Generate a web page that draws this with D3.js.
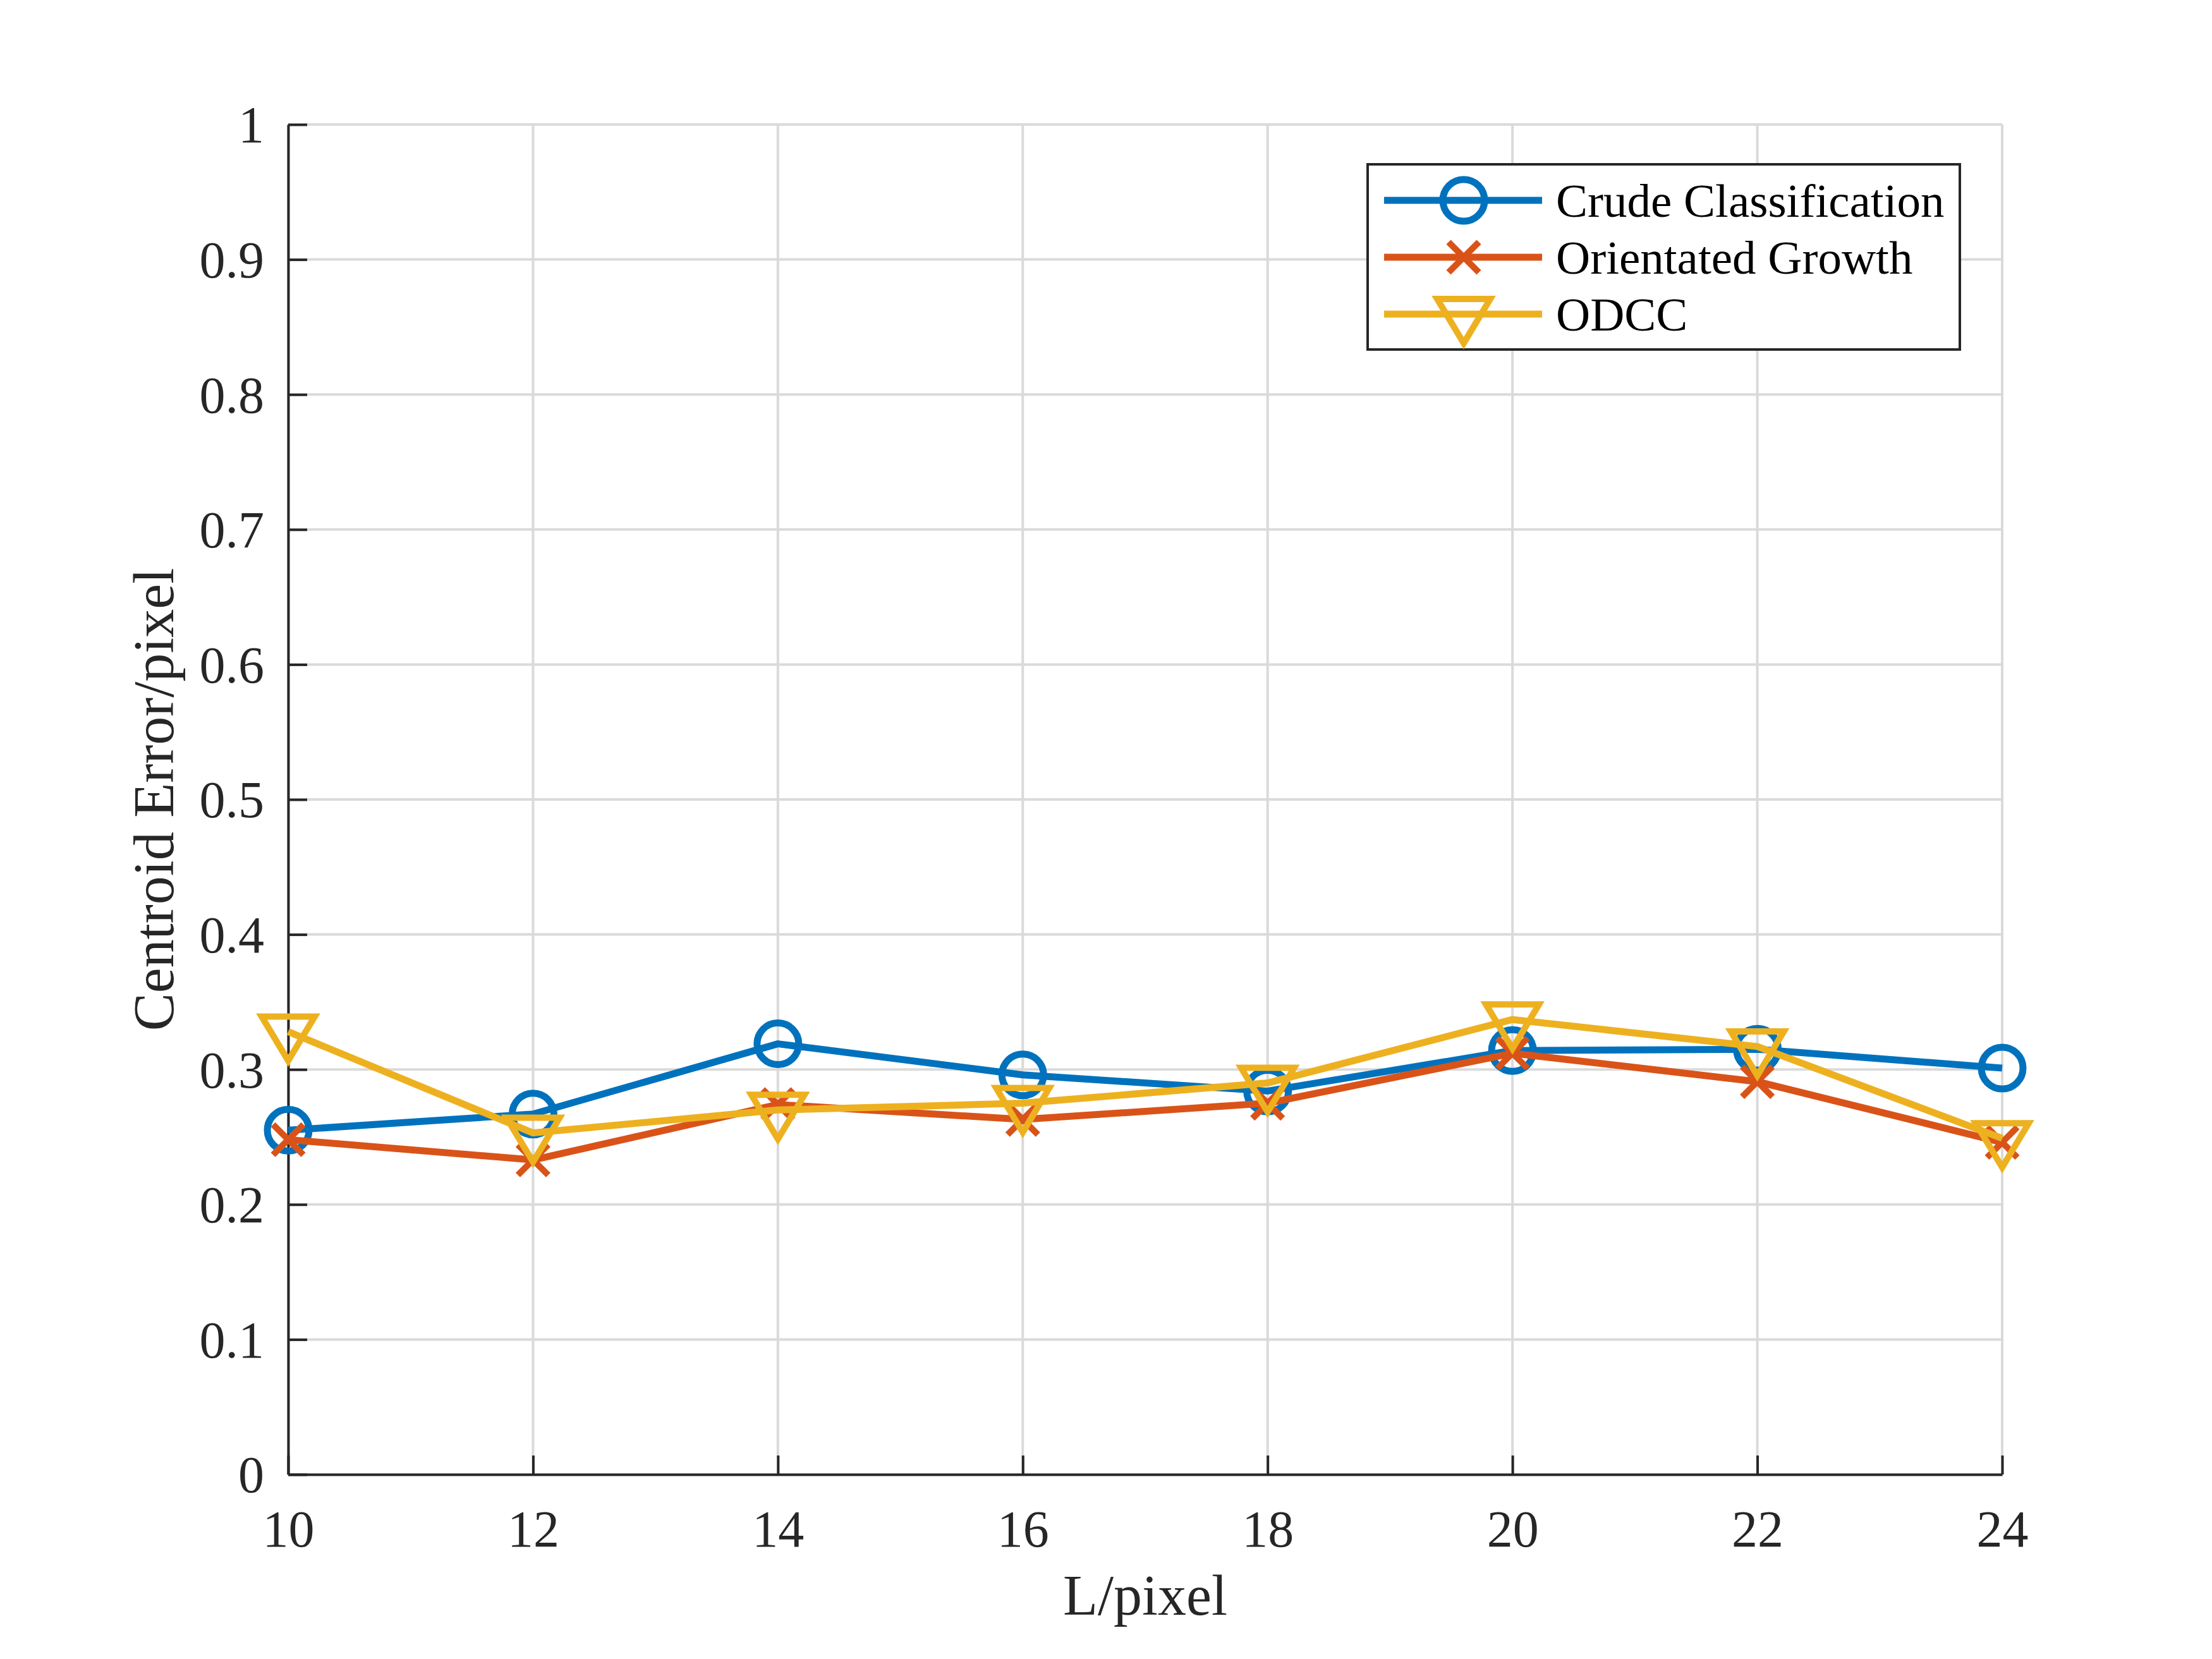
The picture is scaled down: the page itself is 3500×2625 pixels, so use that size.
<!DOCTYPE html>
<html>
<head>
<meta charset="utf-8">
<script src="https://cdn.jsdelivr.net/npm/d3@7"></script>
<style>
  html, body { margin: 0; padding: 0; background: #fff; }
  svg { display: block; }
</style>
</head>
<body>
<script>
// data
const L = [10, 12, 14, 16, 18, 20, 22, 24];
const crude = [0.255, 0.267, 0.319, 0.296, 0.284, 0.314, 0.315, 0.301];
const orient = [0.248, 0.233, 0.274, 0.263, 0.275, 0.312, 0.291, 0.246];
const odcc = [0.328, 0.253, 0.270, 0.275, 0.290, 0.337, 0.317, 0.249];
const seriesNames = ["Crude Classification", "Orientated Growth", "ODCC"];
const xTicks = [10, 12, 14, 16, 18, 20, 22, 24];
const yTicks = [0, 0.1, 0.2, 0.3, 0.4, 0.5, 0.6, 0.7, 0.8, 0.9, 1];

const width = 3500, height = 2625;
const m = { left: 456, right: 3168, top: 197, bottom: 2333 };
const font = "'Liberation Serif', 'Times New Roman', serif";
const ink = "#262626";

const svg = d3.select("body").append("svg")
  .attr("width", width).attr("height", height);

const x = d3.scaleLinear().domain([10, 24]).range([m.left, m.right]);
const y = d3.scaleLinear().domain([0, 1]).range([m.bottom, m.top]);

// grid
const grid = svg.append("g").attr("stroke", "#dadada").attr("stroke-width", 4);
grid.selectAll(".gx").data(xTicks).join("line")
  .attr("x1", d => x(d)).attr("x2", d => x(d))
  .attr("y1", m.top).attr("y2", m.bottom);
grid.selectAll(".gy").data(yTicks).join("line")
  .attr("x1", m.left).attr("x2", m.right)
  .attr("y1", d => y(d)).attr("y2", d => y(d));

// axes (ticks pointing in, no box)
const gx = svg.append("g").attr("transform", `translate(0,${m.bottom})`)
  .call(d3.axisBottom(x).tickValues(xTicks).tickSizeInner(-30).tickSizeOuter(0).tickPadding(0));
const gy = svg.append("g").attr("transform", `translate(${m.left},0)`)
  .call(d3.axisLeft(y).tickValues(yTicks).tickSizeInner(-30).tickSizeOuter(0).tickPadding(38)
    .tickFormat(d3.format("~g")));

[gx, gy].forEach(g => {
  g.select(".domain").attr("stroke", ink).attr("stroke-width", 4);
  g.selectAll(".tick line").attr("stroke", ink).attr("stroke-width", 4);
  g.selectAll(".tick text").attr("fill", ink)
    .style("font-family", font).style("font-size", "82px");
});
gx.selectAll(".tick text").attr("y", 114).attr("dy", 0);
gy.selectAll(".tick text").attr("dy", "0.34em");

// axis labels
svg.append("text")
  .attr("x", (m.left + m.right) / 2).attr("y", 2555)
  .attr("text-anchor", "middle").attr("fill", ink)
  .style("font-family", font).style("font-size", "90px")
  .text("L/pixel");
svg.append("text")
  .attr("transform", `translate(274,${(m.top + m.bottom) / 2}) rotate(-90)`)
  .attr("text-anchor", "middle").attr("fill", ink)
  .style("font-family", font).style("font-size", "90px")
  .text("Centroid Error/pixel");

// markers
const colors = ["#0072BD", "#D95319", "#EDB120"];
function drawMarker(g, kind, cx, cy, color) {
  if (kind === 0) {
    g.append("circle").attr("cx", cx).attr("cy", cy).attr("r", 33)
      .attr("fill", "none").attr("stroke", color).attr("stroke-width", 11);
  } else if (kind === 1) {
    const s = 24;
    g.append("path")
      .attr("d", `M${cx - s},${cy - s}L${cx + s},${cy + s}M${cx - s},${cy + s}L${cx + s},${cy - s}`)
      .attr("stroke", color).attr("stroke-width", 10).attr("fill", "none");
  } else {
    g.append("path")
      .attr("d", `M${cx - 42},${cy - 24}L${cx + 42},${cy - 24}L${cx},${cy + 46}Z`)
      .attr("stroke", color).attr("stroke-width", 10).attr("fill", "none")
      .attr("stroke-linejoin", "miter").attr("stroke-miterlimit", 10);
  }
}

const line = d3.line().x(d => x(d[0])).y(d => y(d[1]));
[crude, orient, odcc].forEach((vals, i) => {
  const pts = L.map((l, k) => [l, vals[k]]);
  const g = svg.append("g");
  g.append("path").datum(pts).attr("d", line)
    .attr("fill", "none").attr("stroke", colors[i]).attr("stroke-width", 11)
    .attr("stroke-linejoin", "round");
  pts.forEach(p => drawMarker(g, i, x(p[0]), y(p[1]), colors[i]));
});

// legend
const lg = svg.append("g");
lg.append("rect").attr("x", 2164).attr("y", 260).attr("width", 937).attr("height", 293)
  .attr("fill", "#fff").attr("stroke", ink).attr("stroke-width", 4);
seriesNames.forEach((name, i) => {
  const cy = 317 + i * 90;
  lg.append("line").attr("x1", 2190).attr("x2", 2440).attr("y1", cy).attr("y2", cy)
    .attr("stroke", colors[i]).attr("stroke-width", 11);
  drawMarker(lg, i, 2316, cy, colors[i]);
  lg.append("text").attr("x", 2462).attr("y", cy).attr("dy", "0.34em")
    .attr("fill", "#000")
    .style("font-family", font).style("font-size", "75px")
    .text(name);
});
</script>
</body>
</html>
